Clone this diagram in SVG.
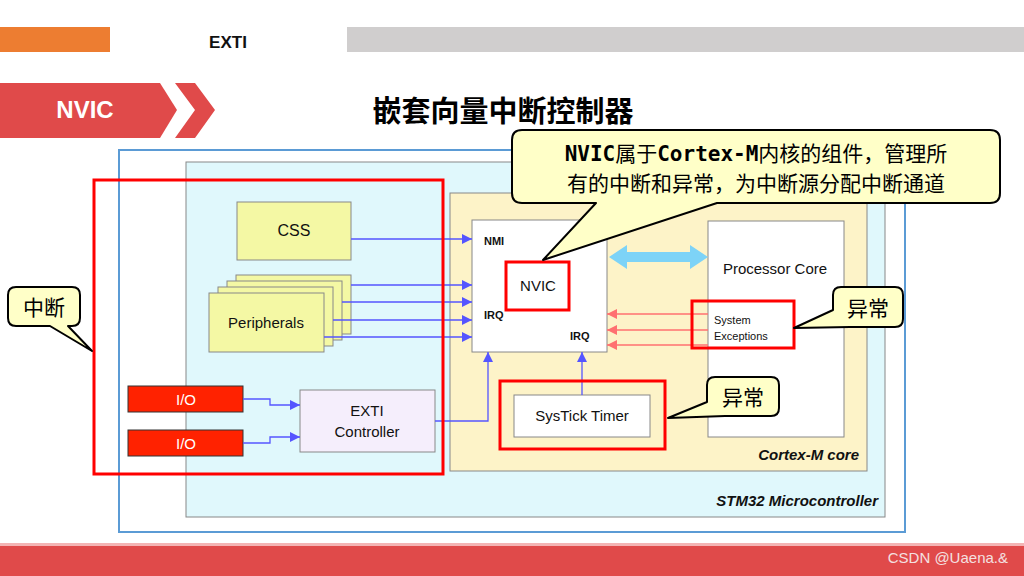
<svg xmlns="http://www.w3.org/2000/svg" width="1024" height="576" viewBox="0 0 1024 576">
<defs>
<style>
.s{font-family:"Liberation Sans",Arial,sans-serif;fill:#111}
.c{font-family:"Noto Sans CJK SC","Liberation Sans",sans-serif;fill:#000}
.b{stroke:#5555ff;stroke-width:1.3;fill:none}
.r{stroke:#ff7070;stroke-width:1.3;fill:none}
.hl{fill:none;stroke:#ff0000;stroke-width:3}
.bx{stroke:#888;stroke-width:1}
.co{fill:#ffffc8;stroke:#000;stroke-width:2;stroke-linejoin:round}
</style>
<marker id="ab" viewBox="0 0 10 10" refX="10" refY="5" markerWidth="10" markerHeight="10" markerUnits="userSpaceOnUse" orient="auto"><path d="M0,0L10,5L0,10z" fill="#5555ff"/></marker>
<marker id="ar" viewBox="0 0 10 10" refX="10" refY="5" markerWidth="10" markerHeight="10" markerUnits="userSpaceOnUse" orient="auto"><path d="M0,0L10,5L0,10z" fill="#ff7070"/></marker>
</defs>
<rect width="1024" height="576" fill="#fff"/>
<rect x="0" y="27" width="110" height="25" fill="#ed7d31"/>
<text x="228" y="48" class="s" font-weight="bold" font-size="17" text-anchor="middle">EXTI</text>
<rect x="347" y="27" width="677" height="25" fill="#d0cece"/>
<polygon points="0,83 160,83 177,110 160,138 0,138" fill="#e04a4a"/>
<polygon points="175,83 195,83 215,110 195,138 175,138 195,110" fill="#e04a4a"/>
<text x="85" y="118" font-family="Liberation Sans,sans-serif" font-weight="bold" font-size="24" fill="#fff" text-anchor="middle">NVIC</text>
<text x="503" y="122" class="c" font-weight="bold" font-size="29" text-anchor="middle">嵌套向量中断控制器</text>
<rect x="119" y="150" width="786" height="382" fill="#fff" stroke="#5b9bd5" stroke-width="2"/>
<rect x="186" y="162" width="699" height="355" fill="#e0f8fc" class="bx"/>
<text x="878" y="506" class="s" font-size="15" font-weight="bold" font-style="italic" text-anchor="end">STM32 Microcontroller</text>
<rect x="450" y="193" width="417" height="278" fill="#fdf3c8" class="bx"/>
<text x="859" y="460" class="s" font-size="15" font-weight="bold" font-style="italic" text-anchor="end">Cortex-M core</text>
<g id="nvic"><rect x="472" y="220" width="135" height="132" fill="#fff" class="bx"/>
<text x="484" y="245" class="s" font-size="11" font-weight="bold">NMI</text>
<text x="484" y="319" class="s" font-size="11" font-weight="bold">IRQ</text>
<text x="570" y="340" class="s" font-size="11" font-weight="bold">IRQ</text>
<text x="538" y="291" class="s" font-size="15" text-anchor="middle">NVIC</text></g>
<g id="core"><rect x="708" y="221" width="136" height="216" fill="#fff" class="bx"/>
<text x="775" y="274" class="s" font-size="15" text-anchor="middle">Processor Core</text>
<text x="714" y="324" class="s" font-size="11">System</text>
<text x="714" y="340" class="s" font-size="11">Exceptions</text></g>
<g id="systick"><rect x="514" y="395" width="136" height="42" fill="#fff" class="bx"/>
<text x="582" y="421" class="s" font-size="15" text-anchor="middle">SysTick Timer</text></g>
<g id="css"><rect x="237" y="202" width="114" height="58" fill="#f4f8a4" class="bx"/>
<text x="294" y="236" class="s" font-size="16" text-anchor="middle">CSS</text></g>
<g id="periph" fill="#f4f8a4">
<rect x="236" y="275" width="115" height="59" class="bx"/>
<rect x="227" y="281" width="115" height="59" class="bx"/>
<rect x="218" y="287" width="115" height="59" class="bx"/>
<rect x="209" y="293" width="115" height="59" class="bx"/>
<text x="266" y="328" class="s" font-size="15" text-anchor="middle">Peripherals</text></g>
<g id="io1"><rect x="128" y="386" width="115" height="26" fill="#ff2200" stroke="#333"/>
<text x="186" y="405" font-family="Liberation Sans,sans-serif" font-size="15" fill="#fff" text-anchor="middle">I/O</text></g>
<g id="io2"><rect x="128" y="430" width="115" height="26" fill="#ff2200" stroke="#333"/>
<text x="186" y="449" font-family="Liberation Sans,sans-serif" font-size="15" fill="#fff" text-anchor="middle">I/O</text></g>
<g id="exti"><rect x="300" y="390" width="135" height="62" fill="#f5eefc" class="bx"/>
<text x="367" y="416" class="s" font-size="15" text-anchor="middle">EXTI</text>
<text x="367" y="437" class="s" font-size="15" text-anchor="middle">Controller</text></g>
<g id="connectors">
<path class="b" marker-end="url(#ab)" d="M351,239H472"/>
<path class="b" marker-end="url(#ab)" d="M351,285H472"/>
<path class="b" marker-end="url(#ab)" d="M342,302H472"/>
<path class="b" marker-end="url(#ab)" d="M333,320H472"/>
<path class="b" marker-end="url(#ab)" d="M324,337H472"/>
<path class="b" marker-end="url(#ab)" d="M435,421H488V352"/>
<path class="b" marker-end="url(#ab)" d="M582,395V352"/>
<path class="b" marker-end="url(#ab)" d="M243,399H270V405H300"/>
<path class="b" marker-end="url(#ab)" d="M243,443H270V437H300"/>
<path class="r" marker-end="url(#ar)" d="M708,314H607"/>
<path class="r" marker-end="url(#ar)" d="M708,330H607"/>
<path class="r" marker-end="url(#ar)" d="M708,345H607"/>
<polygon points="609,257 627,245 627,252 690,252 690,245 708,257 690,269 690,262 627,262 627,269" fill="#7dd3f7"/>
</g>
<rect x="94" y="180" width="349" height="294" class="hl"/>
<rect x="506" y="262" width="63" height="48" class="hl"/>
<rect x="692" y="301" width="102" height="47" class="hl"/>
<rect x="500" y="381" width="165" height="68" class="hl"/>
<g id="callout-main"><path class="co" d="M522,130H990Q1000,130 1000,140V193Q1000,203 990,203H717L543,260L596,203H522Q512,203 512,193V140Q512,130 522,130Z"/>
<text x="756" y="161" class="c" font-size="21" text-anchor="middle"><tspan font-family="DejaVu Sans Mono,monospace" font-weight="bold">NVIC</tspan>属于<tspan font-family="DejaVu Sans Mono,monospace" font-weight="bold">Cortex-M</tspan>内核的组件，管理所</text>
<text x="756" y="191" class="c" font-size="21" text-anchor="middle">有的中断和异常，为中断源分配中断通道</text></g>
<g id="callout-ex1"><path class="co" d="M841,287H895Q903,287 903,295V319Q903,327 895,327H850L794,328L833,310V295Q833,287 841,287Z"/>
<text x="868" y="316" class="c" font-size="21" text-anchor="middle">异常</text></g>
<g id="callout-ex2"><path class="co" d="M715,377H771Q779,377 779,385V408Q779,416 771,416H725L668,418L707,402V385Q707,377 715,377Z"/>
<text x="743" y="405" class="c" font-size="21" text-anchor="middle">异常</text></g>
<g id="callout-int"><path class="co" d="M16,287H72Q80,287 80,295V318Q80,326 72,326H68L92,351L50,326H16Q8,326 8,318V295Q8,287 16,287Z"/>
<text x="44" y="315" class="c" font-size="21" text-anchor="middle">中断</text></g>
<rect x="0" y="543" width="1024" height="3" fill="#f4b4b4"/>
<rect x="0" y="546" width="1024" height="30" fill="#e04a4a"/>
<text x="1008" y="563" font-family="Liberation Sans,sans-serif" font-size="15" fill="#f4e0e0" text-anchor="end">CSDN @Uaena.&amp;</text>
</svg>
